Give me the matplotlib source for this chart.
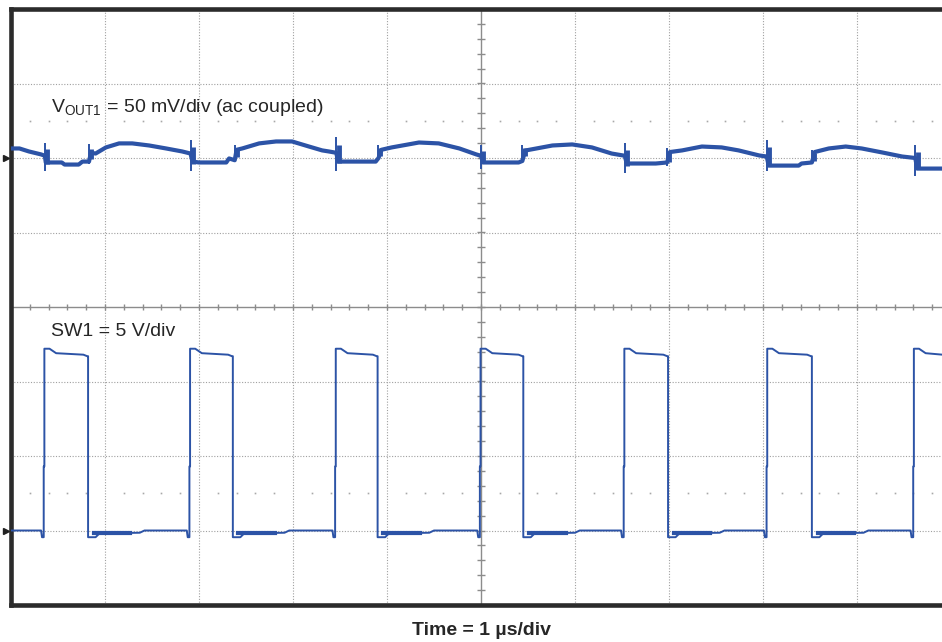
import numpy as np
import matplotlib
matplotlib.use("Agg")
import matplotlib.pyplot as plt

plt.rcParams['font.family'] = ['Liberation Sans', 'DejaVu Sans']
plt.rcParams['mathtext.fontset'] = 'custom'
plt.rcParams['mathtext.rm'] = 'Liberation Sans'
plt.rcParams['mathtext.it'] = 'Liberation Sans:italic'
plt.rcParams['mathtext.bf'] = 'Liberation Sans:bold'

# ---------------- data ----------------
# Channel 1: VOUT1 ripple, 50 mV/div, ac coupled, ground marker at +2 div
vout_t_us = [0.00, 0.09, 0.19, 0.32, 0.36,
             0.37, 0.40, 0.54, 0.57, 0.72, 0.76, 0.83,
             0.85, 0.90, 1.01, 1.15, 1.29, 1.47, 1.65, 1.82, 1.91,
             1.93, 2.00, 2.29, 2.32, 2.38,
             2.40, 2.46, 2.64, 2.82, 2.99, 3.17, 3.31, 3.38, 3.46,
             3.48, 3.88, 3.91,
             3.94, 4.05, 4.34, 4.55, 4.77, 4.95, 5.00,
             5.02, 5.40, 5.44,
             5.47, 5.59, 5.76, 5.97, 6.18, 6.39, 6.53,
             6.55, 6.86, 6.98,
             7.01, 7.14, 7.35, 7.56, 7.74, 7.96, 8.04,
             8.06, 8.38, 8.41, 8.52,
             8.55, 8.70, 8.88, 9.05, 9.27, 9.48, 9.62,
             9.64, 9.91]
vout_mv = [6.4, 6.4, 4.4, 2.4, 1.5,
           -3.0, -3.0, -3.0, -4.4, -4.4, -2.4, -2.4,
           3.5, 3.0, 7.1, 9.8, 9.8, 8.4, 6.4, 4.4, 3.0,
           -2.4, -3.0, -3.0, -0.3, -1.5,
           5.5, 6.4, 9.8, 11.1, 11.1, 7.7, 5.1, 4.4, 3.5,
           -2.4, -2.4, 0.0,
           5.5, 7.1, 10.4, 9.8, 6.4, 2.4, 1.5,
           -3.0, -3.0, -2.0,
           5.0, 6.4, 8.4, 9.1, 7.1, 3.0, 1.5,
           -3.7, -3.7, -3.0,
           4.0, 5.1, 7.7, 7.1, 5.1, 1.7, 1.0,
           -5.1, -5.1, -3.7, -3.0,
           4.0, 6.4, 7.7, 6.4, 3.7, 1.0, 0.0,
           -7.1, -7.1]
# switching spikes on VOUT1
spike_t_us = [0.36, 0.83, 1.91, 2.38, 3.46, 3.90, 5.00, 5.44, 6.53, 6.98, 8.04, 8.52, 9.62]
spike_top_mv = [10.4, 9.1, 11.8, 8.4, 13.8, 8.4, 8.4, 8.4, 9.8, 6.4, 11.8, 5.1, 8.4]
spike_bot_mv = [-8.4, -3.7, -8.4, -1.5, -8.4, -0.3, -7.1, -0.3, -9.8, -5.1, -8.4, -3.7, -11.8]

# Channel 2: SW1 switch node, 5 V/div, ground marker at -3 div
sw_rise_us = [0.36, 1.91, 3.46, 5.00, 6.53, 8.05, 9.61]
sw_fall_us = [0.82, 2.36, 3.90, 5.45, 6.99, 8.52]
sw_high_start_v = 12.2   # overshoot right after the rising edge
sw_high_v = 11.9
sw_high_end_v = 11.7
sw_step_v = 4.3          # small step on the rising edge
sw_under_v = -0.45       # undershoot at the edges
sw_low_v = 0.0

# scope settings
t_per_div = 1.0      # µs/div
ch1_mv_per_div = 50.0
ch1_offset_div = 2.0
ch2_v_per_div = 5.0
ch2_offset_div = -3.0

t_end = 9.91

# ---------------- figure ----------------
W, H = 942, 642
fig = plt.figure(figsize=(W / 100, H / 100), dpi=100)
left_px, top_px, bot_px, right_px = 11, 9, 605, 942
ax = fig.add_axes([left_px / W, 1 - bot_px / H, (right_px - left_px) / W, (bot_px - top_px) / H])
ax.set_xlim(0, (right_px - left_px) / 94.0)
ax.set_ylim(-4, 4)
ax.set_xticks([])
ax.set_yticks([])
for s in ['left', 'top', 'bottom']:
    ax.spines[s].set_linewidth(3.3)
    ax.spines[s].set_color('#2b2b2b')
ax.spines['right'].set_visible(False)

grid_c = '#a0a0a0'
# dotted graticule
for gx in range(1, 10):
    if gx == 5:
        continue
    ax.axvline(gx, color=grid_c, lw=0.8, ls=(0, (1, 1.5)), zorder=1)
for gy in range(-3, 4):
    if gy == 0:
        continue
    ax.axhline(gy, color=grid_c, lw=0.8, ls=(0, (1, 1.5)), zorder=1)
# center axes with minor ticks
ax.axvline(5, color='#8c8c8c', lw=1.0, zorder=1)
ax.axhline(0, color='#8c8c8c', lw=1.0, zorder=1)
mx = np.arange(0.2, 10.0, 0.2)
ax.vlines(mx, -0.035, 0.035, color='#8c8c8c', lw=1.0, zorder=1)
my = np.arange(-3.8, 4.0, 0.2)
ax.hlines(my, 5 - 0.04, 5 + 0.04, color='#8c8c8c', lw=1.0, zorder=1)
# sparse dot rows at +/-2.5 div
dots = np.array([v for v in np.arange(0.2, 10.0, 0.2) if abs(v - round(v)) > 0.05])
for yy in (2.5, -2.5):
    ax.plot(dots, np.full_like(dots, yy), ls='none', marker='s', ms=1.2,
            color='#a8a8a8', mec='none', zorder=1)

# ---------------- traces ----------------
trace_c = '#2c53a6'
vt = np.array(vout_t_us) / t_per_div
vy = np.array(vout_mv) / ch1_mv_per_div + ch1_offset_div
ax.plot(vt, vy, color=trace_c, lw=3.0, solid_joinstyle='round', solid_capstyle='butt', zorder=3)
spk_t = np.array(spike_t_us) / t_per_div
spk_top = np.array(spike_top_mv) / ch1_mv_per_div + ch1_offset_div
spk_bot = np.array(spike_bot_mv) / ch1_mv_per_div + ch1_offset_div
ax.vlines(spk_t, spk_bot, spk_top, color=trace_c, lw=1.4, zorder=3)
mid = (spk_top + spk_bot) / 2
half = (spk_top - spk_bot) / 2
ax.vlines(spk_t + 0.025, mid - 0.55 * half, mid + 0.55 * half, color=trace_c, lw=3.5, zorder=3)

# SW1 polyline built from the read edges and levels
st, sv = [0.0], [sw_low_v]
for i, tr in enumerate(sw_rise_us):
    st += [tr - 0.04, tr - 0.03, tr - 0.012, tr - 0.012, tr - 0.005, tr - 0.005, tr + 0.05, tr + 0.12]
    sv += [sw_low_v, sw_under_v, sw_under_v, sw_step_v, sw_step_v, sw_high_start_v, sw_high_start_v, sw_high_v]
    if i < len(sw_fall_us):
        tf = sw_fall_us[i]
        st += [tf - 0.05, tf - 0.01, tf, tf, tf + 0.08, tf + 0.12, tf + 0.55, tf + 0.6]
        sv += [sw_high_v - 0.1, sw_high_end_v, sw_high_end_v, sw_under_v, sw_under_v, -0.2, -0.15, sw_low_v]
    else:
        st += [t_end]
        sv += [sw_high_v - 0.1]
st = np.array(st) / t_per_div
sv = np.array(sv) / ch2_v_per_div + ch2_offset_div
ax.plot(st, sv, color=trace_c, lw=1.4, zorder=3)
# thicker noisy band on the low level after each falling edge
for tf in sw_fall_us:
    ax.plot([(tf + 0.06) / t_per_div, (tf + 0.45) / t_per_div],
            [-0.2 / ch2_v_per_div + ch2_offset_div] * 2,
            color=trace_c, lw=3.0, zorder=3)

# ground markers
for yy in (ch1_offset_div, ch2_offset_div):
    ax.plot([-0.055], [yy], marker='>', ms=5, color='#222222', clip_on=False, zorder=5)

# ---------------- texts ----------------
txt_c = '#262626'
fig.text(51 / W, 1 - 112 / H, r'V$_{\mathrm{OUT1}}$ = 50 mV/div (ac coupled)',
         fontsize=14, color=txt_c, va='baseline', ha='left')
fig.text(51 / W, 1 - 336 / H, 'SW1 = 5 V/div',
         fontsize=14, color=txt_c, va='baseline', ha='left')
fig.text(482 / W, 1 - 635 / H, 'Time = 1 µs/div',
         fontsize=14, fontweight='bold', color=txt_c, va='baseline', ha='center')

fig.savefig('out.png', dpi=100)
